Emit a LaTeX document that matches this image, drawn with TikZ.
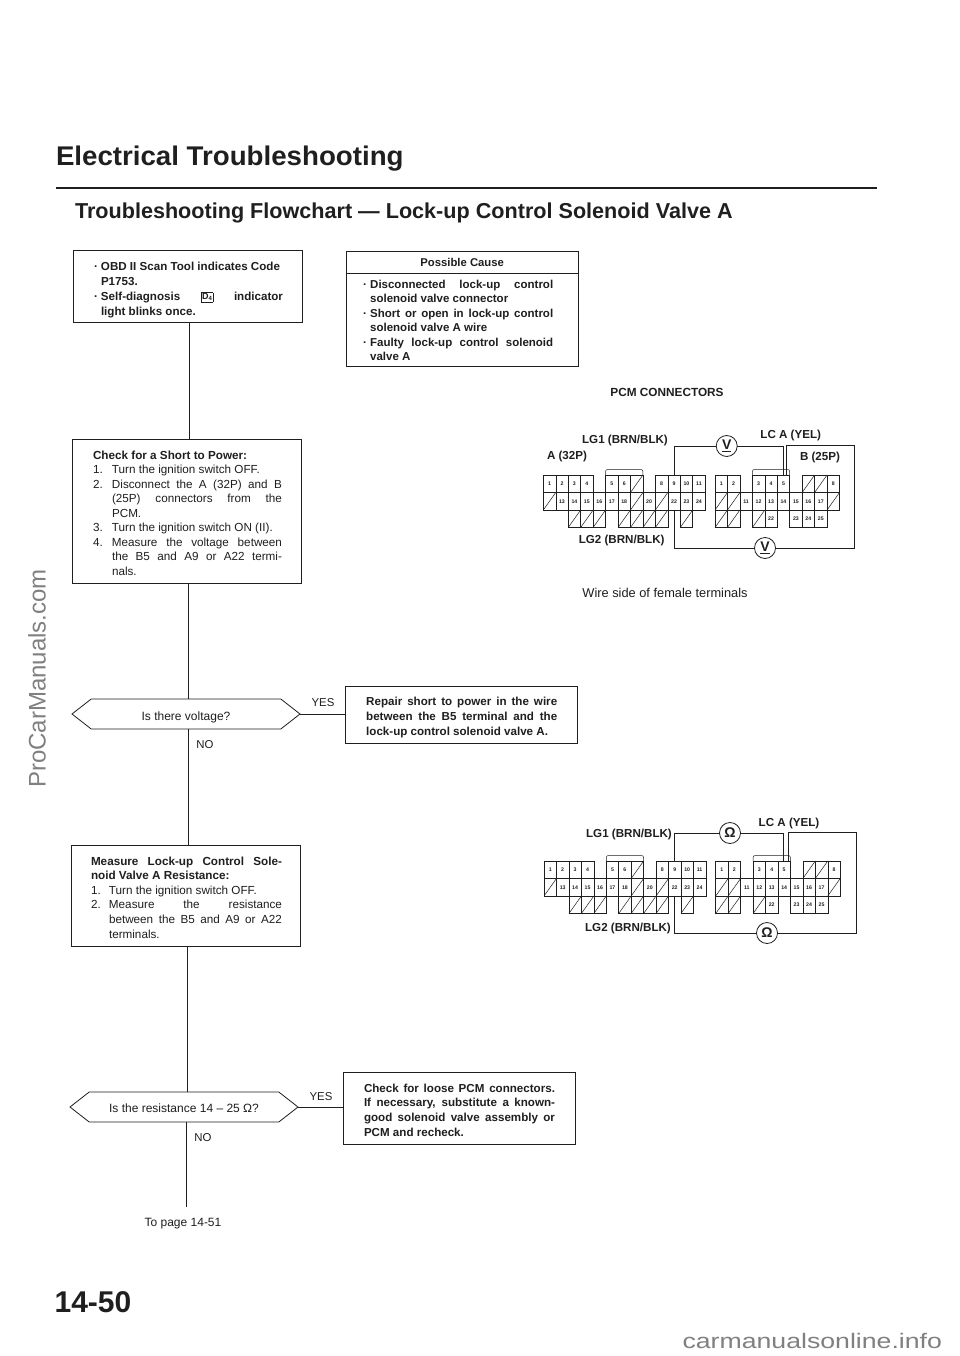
\documentclass[tikz,border=0pt]{standalone}
\usepackage{fontspec}
\setmainfont{Liberation Sans}
\usetikzlibrary{shapes.symbols,positioning}
\definecolor{ink}{gray}{0.12}
\definecolor{wm}{gray}{0.5}
\newcommand\fs[2]{\fontsize{#1}{#2}\selectfont}
% #1 left padding minus right padding, #2 text width, #3 leftskip, #4 downward shift, #5 text
\newcommand\bxt[5]{\hspace*{#1pt}\begin{minipage}[c]{#2pt}\color{ink}\parindent=0pt\sloppy\hbadness=10000\hfuzz=20pt\vspace*{#4pt}\leftskip=#3pt #5\par\end{minipage}}
\newcommand\nlab[1]{\leavevmode\llap{\makebox[19pt][l]{#1}}}
\newcommand\nlabb[1]{\leavevmode\llap{\makebox[18pt][l]{#1}}}
\newcommand\bul{\leavevmode\llap{\makebox[7pt][l]{\textbf{·}}}}
\newcommand\cellpin[4]{% prefix, col, row, text
  \node[pin] (#1#4) at ({(#2+0.5)*12.45},{(#3+0.5)*17.5}) {#4};}
\newcommand\cellnil[3]{% prefix, col, row: dead terminal, struck through
  \node[pin] (#1s#2x#3) at ({(#2+0.5)*12.45},{(#3+0.5)*17.5}) {};
  \draw[cellline] (#1s#2x#3.south west) -- (#1s#2x#3.north east);}
\newcommand\connA[1]{%
  \foreach \c/\t in {0/1,1/2,2/3,3/4,5/5,6/6,9/8,10/9,11/10,12/11}{\cellpin{#1t}{\c}{0}{\t}}
  \cellnil{#1}{7}{0}
  \cellnil{#1}{0}{1}
  \foreach \c/\t in {1/13,2/14,3/15,4/16,5/17,6/18,8/20,10/22,11/23,12/24}{\cellpin{#1m}{\c}{1}{\t}}
  \cellnil{#1}{7}{1}\cellnil{#1}{9}{1}
  \foreach \c in {2,3,4,6,7,8,9,11}{\cellnil{#1}{\c}{2}}
  \draw[cellline,rounded corners=2pt] (#1t5.north west) -- ++(0,-5.5) -| (#1s7x0.north east);
}
\newcommand\connB[1]{%
  \foreach \c/\t in {0/1,1/2,3/3,4/4,5/5,9/8}{\cellpin{#1t}{\c}{0}{\t}}
  \cellnil{#1}{7}{0}\cellnil{#1}{8}{0}
  \cellnil{#1}{0}{1}\cellnil{#1}{1}{1}\cellnil{#1}{9}{1}
  \foreach \c/\t in {2/11,3/12,4/13,5/14,6/15,7/16,8/17}{\cellpin{#1m}{\c}{1}{\t}}
  \cellnil{#1}{0}{2}\cellnil{#1}{1}{2}\cellnil{#1}{3}{2}
  \foreach \c/\t in {4/22,6/23,7/24,8/25}{\cellpin{#1m}{\c}{2}{\t}}
  \draw[cellline,rounded corners=2pt] (#1t3.north west) -- ++(0,-5.5) -| (#1t5.north east);
}
\tikzset{
  x=1pt,y=-1pt,
  every node/.style={inner sep=0pt,outer sep=0pt,text=ink},
  flowbox/.style={draw=ink,line width=0.8pt,rectangle},
  link/.style={draw=ink,line width=0.7pt},
  hex/.style={draw=ink,line width=0.8pt,signal,signal to=west and east,signal pointer angle=76,minimum height=30pt,font=\fs{12}{14}},
  pin/.style={draw=ink,line width=0.5pt,rectangle,minimum width=12.45pt,minimum height=17.5pt,font=\bfseries\fs{5.2}{6}},
  cellline/.style={draw=ink,line width=0.5pt},
  wire/.style={draw=ink,line width=0.8pt},
  meter/.style={draw=ink,line width=0.8pt,circle,minimum size=21pt,font=\bfseries\fs{14}{14},fill=white},
  clabel/.style={font=\bfseries\fs{11.6}{13}},
  small/.style={font=\fs{12}{13}},
  yn/.style={font=\fs{11.4}{12}},
}
\begin{document}
\begin{tikzpicture}
\useasboundingbox (0,0) rectangle (960,1356);
\fill[white] (0,0) rectangle (960,1356);
% heading
\node[font=\bfseries\fs{27}{30},anchor=west] (title) at (56,158.5) {\scalebox{1.025}[1]{Electrical Troubleshooting}};
\coordinate (ruleL) at (56,188);\coordinate (ruleR) at (877,188);
\draw[ink,line width=2pt] (ruleL) -- (ruleR);
\node[font=\bfseries\fs{21.6}{24},anchor=west] (sub) at (75,213) {Troubleshooting Flowchart — Lock-up Control Solenoid Valve A};
% flow boxes
\node[flowbox,minimum width=229pt,minimum height=72pt] (b1) at (187.5,286.7) {\bxt{9}{182}{0}{6}{\fs{11.6}{15}\bfseries
  \bul OBD II Scan Tool indicates Code\\P1753.\\\bul Self-diagnosis {\setlength\fboxsep{0.8pt}\setlength\fboxrule{0.5pt}\raisebox{0.2pt}{\fbox{\fs{9}{9}D\raisebox{-0.8pt}{\fs{6}{6}4}}}} indicator\linebreak light blinks once.}};
\node[flowbox,minimum width=231.5pt,minimum height=22pt,font=\bfseries\fs{11.3}{12}] (pch) at (462.2,262) {Possible Cause};
\node[flowbox,minimum width=231.5pt,minimum height=93pt,below=0pt of pch] (pc) {\bxt{-1}{183}{0}{2}{\fs{11.5}{14.5}\bfseries
  \bul Disconnected lock-up control\linebreak solenoid valve connector\\\bul Short or open in lock-up control\linebreak solenoid valve A wire\\\bul Faulty lock-up control solenoid\linebreak valve A}};
\node[flowbox,minimum width=229pt,minimum height=144pt] (b2) at (186.5,511) {\bxt{2}{189}{19}{4}{\fs{11.7}{14.5}
  \hspace*{-19pt}\textbf{Check for a Short to Power:}\\\nlab{1.}Turn the ignition switch OFF.\\\nlab{2.}Disconnect the A (32P) and B\linebreak (25P) connectors from the\linebreak PCM.\\\nlab{3.}Turn the ignition switch ON (II).\\\nlab{4.}Measure the voltage between\linebreak the B5 and A9 or A22 termi-\linebreak nals.}};
\node[hex,minimum width=228pt] (d1) at (186,714) {\raisebox{-6.5pt}[0pt][0pt]{Is there voltage?}};
\node[flowbox,minimum width=231.5pt,minimum height=57pt] (r1) at (461.2,714.5) {\bxt{1}{191}{0}{6}{\fs{11.6}{15}\bfseries
  Repair short to power in the wire\linebreak between the B5 terminal and the\linebreak lock-up control solenoid valve A.}};
\node[flowbox,minimum width=229pt,minimum height=101pt] (b3) at (185.5,895.5) {\bxt{2}{191}{18}{4}{\fs{11.7}{14.6}
  \hspace*{-18pt}\textbf{Measure Lock-up Control Sole-\linebreak\hspace*{-18pt}noid Valve A Resistance:}\\\nlabb{1.}Turn the ignition switch OFF.\\\nlabb{2.}Measure the resistance\linebreak between the B5 and A9 or A22\linebreak terminals.}};
\node[hex,minimum width=228pt] (d2) at (184,1107) {\raisebox{-5.5pt}[0pt][0pt]{Is the resistance 14 – 25 Ω?}};
\node[flowbox,minimum width=232pt,minimum height=72pt] (r2) at (459,1108) {\bxt{1}{191}{0}{4}{\fs{11.6}{14.7}\bfseries
  Check for loose PCM connectors.\linebreak If necessary, substitute a known-\linebreak good solenoid valve assembly or\linebreak PCM and recheck.}};
\node[small,anchor=center] (topage) at (183,1223.5) {To page 14-51};
\coordinate (tail) at (186,1207);
\draw[link] (b1.south -| 189,0) -- (b2.north -| 189,0);
\draw[link] (b2.south -| 188,0) -- (d1.north -| 188,0);
\draw[link] (d1.south -| 188,0) -- (b3.north -| 188,0);
\draw[link] (b3.south -| 187,0) -- (d2.north -| 187,0);
\draw[link] (d2.south -| 186,0) -- (tail);
\draw[link] (d1.east) -- (d1.east -| r1.west);
\draw[link] (d2.east) -- (d2.east -| r2.west);
\node[yn] (y1) at (323,703) {YES};
\node[yn] (n1) at (205,745) {NO};
\node[yn] (y2) at (321,1097) {YES};
\node[yn] (n2) at (203,1138) {NO};
% voltage diagram
\node[clabel,font=\bfseries\fs{11.8}{13}] (pcm) at (667,392) {PCM CONNECTORS};
\begin{scope}[shift={(543.3,475)}]
  \connA{p}
\end{scope}
\begin{scope}[shift={(715,475)}]
  \connB{q}
\end{scope}
\node[clabel] (lg1v) at (625,440) {LG1 (BRN/BLK)};
\node[clabel] (av) at (567,456) {A (32P)};
\node[clabel] (lcv) at (790.7,435) {LC A (YEL)};
\node[clabel] (bv) at (820,457.7) {B (25P)};
\node[clabel] (lg2v) at (621.7,540.7) {LG2 (BRN/BLK)};
\node[small,font=\fs{12.8}{14}] (wsv) at (665,593) {Wire side of female terminals};
\node[meter] (v1) at (726.7,446) {\underline{V}};
\node[meter] (v2) at (765,548) {\underline{V}};
\draw[wire] (pt9.north) |- (v1.west);
\draw[wire] (v1.east) -| ([xshift=-0.5pt]qt5.north);
\draw[wire] ([xshift=3pt]qt5.north) |- (854,445) |- (v2.east);
\draw[wire] (v2.west) -| (pm22.south);
% resistance diagram
\begin{scope}[shift={(544,861)}]
  \connA{r}
\end{scope}
\begin{scope}[shift={(715.7,861)}]
  \connB{s}
\end{scope}
\node[clabel] (lg1o) at (629,834) {LG1 (BRN/BLK)};
\node[clabel] (lco) at (789,823) {LC A (YEL)};
\node[clabel] (lg2o) at (628,928) {LG2 (BRN/BLK)};
\node[meter] (o1) at (730,833) {Ω};
\node[meter] (o2) at (767,933) {Ω};
\draw[wire] (rt9.north) |- (o1.west);
\draw[wire] (o1.east) -| ([xshift=-1pt]st5.north);
\draw[wire] ([xshift=4.7pt]st5.north) |- (856,832) |- (o2.east);
\draw[wire] (o2.west) -| (rm22.south);
% page number
\node[font=\bfseries\fs{30}{32}] (pg) at (93,1302) {14-50};
% watermarks
\node[font=\fs{24}{26},rotate=90,text=wm] (wm1) at (37,678.5) {ProCarManuals.com};
\node[font=\fs{21}{23},text=wm,anchor=base east] (wm2) at (942,1348) {\scalebox{1.27}[1]{carmanualsonline.info}};
\end{tikzpicture}
\end{document}
